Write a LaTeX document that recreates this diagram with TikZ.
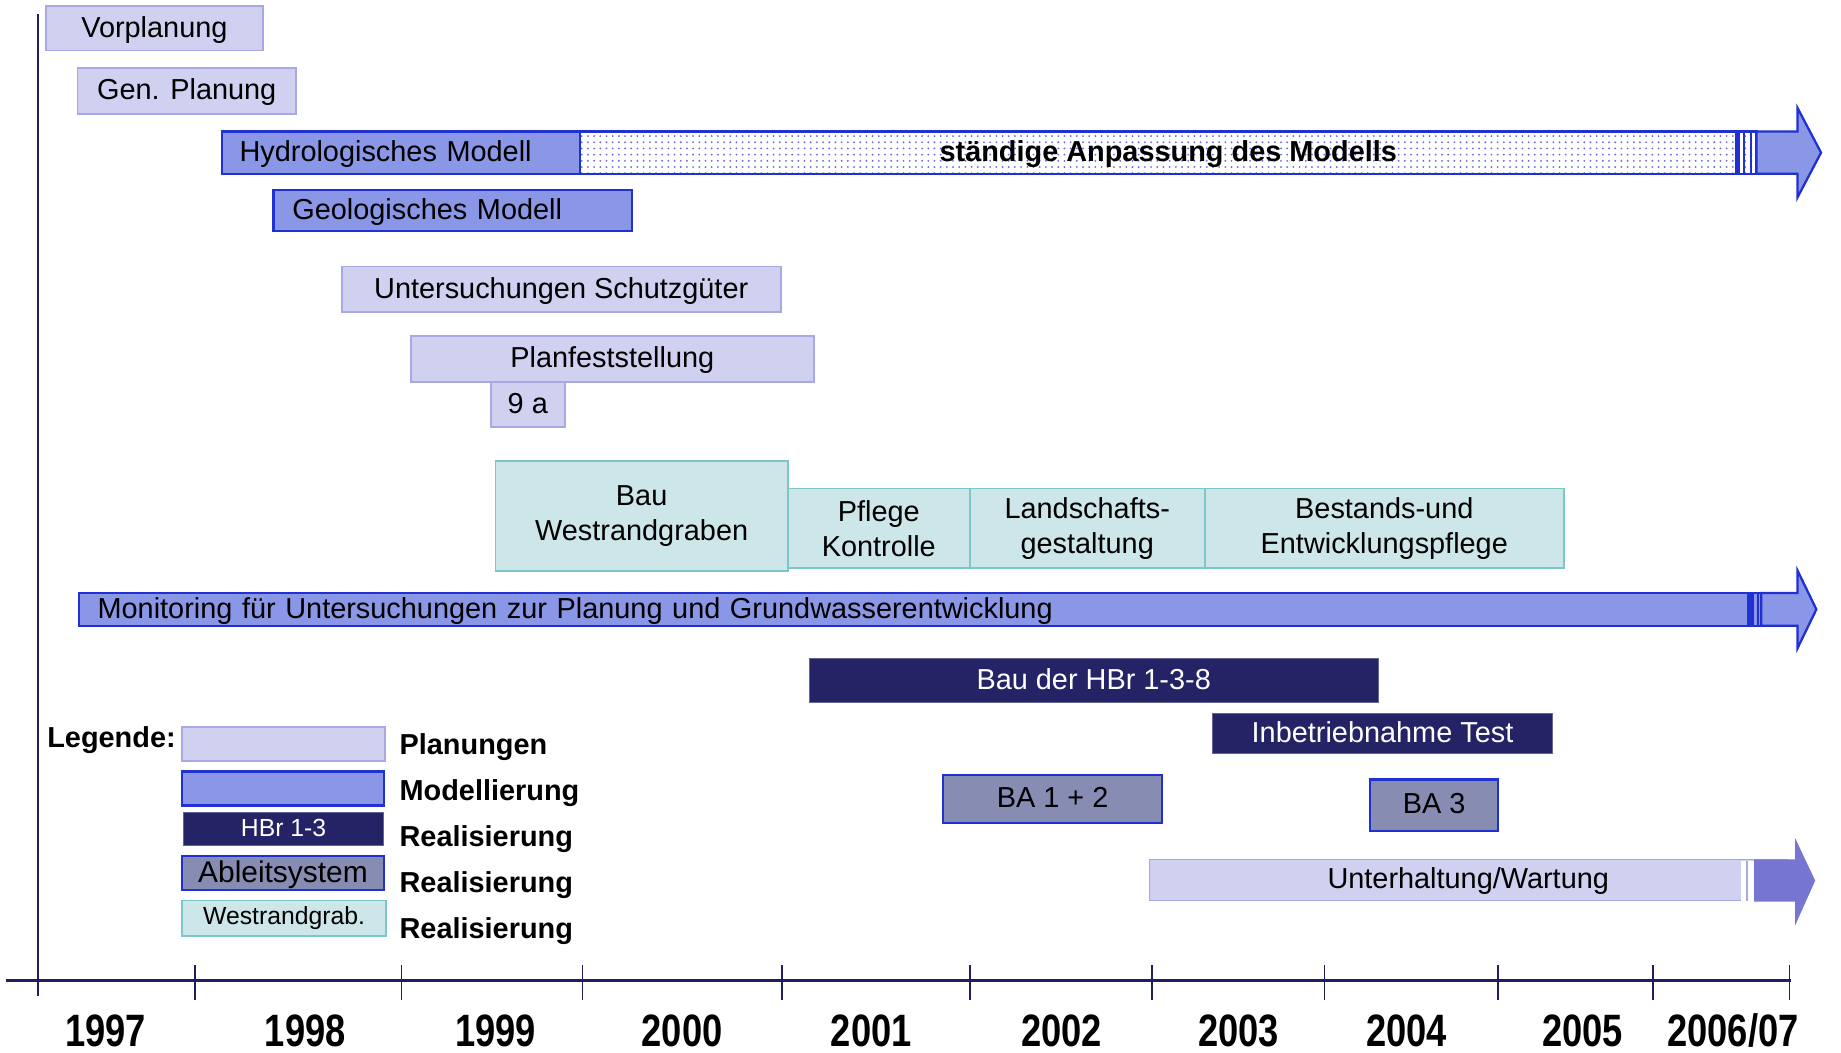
\documentclass[tikz,border=0pt]{standalone}
\usepackage{fontspec}
\setmainfont{Liberation Sans}
\newfontfamily\yearfont[FakeStretch=0.8]{Liberation Sans}
\usetikzlibrary{patterns}
\definecolor{planfill}{RGB}{208,208,240}
\definecolor{planline}{RGB}{168,168,226}
\definecolor{modelfill}{RGB}{138,150,230}
\definecolor{modelline}{RGB}{32,48,210}
\definecolor{hbrfill}{RGB}{35,35,102}
\definecolor{bafill}{RGB}{134,140,178}
\definecolor{wrgfill}{RGB}{204,230,234}
\definecolor{wrgline}{RGB}{124,200,200}
\definecolor{axisnavy}{RGB}{30,30,96}
\definecolor{wartarrow}{RGB}{118,118,210}
\tikzset{
    bartext/.style = {font=\fontsize{14}{17}\selectfont, text=black, inner sep=1pt, text depth=1.5pt},
    planbox/.style = {rectangle, draw=planline, fill=planfill, line width=0.9pt, bartext},
    modelbox/.style = {rectangle, draw=modelline, fill=modelfill, line width=1.1pt, bartext},
    hbrbox/.style = {rectangle, draw=hbrfill!70!white, fill=hbrfill, line width=0.5pt, bartext, text=white},
    babox/.style = {rectangle, draw=modelline, fill=bafill, line width=1.1pt, bartext},
    wrgbox/.style = {rectangle, draw=wrgline, fill=wrgfill, line width=0.9pt, font=\fontsize{14}{17}\selectfont, text=black, inner sep=1pt, align=center},
    legtxt/.style = {anchor=base west, font=\fontsize{14}{17}\selectfont\bfseries, inner sep=0pt},
    yearlbl/.style = {anchor=base, font=\yearfont\fontsize{22}{24}\selectfont\bfseries, inner sep=0pt},
    axisline/.style = {axisnavy, line width=1.6pt},
    tickline/.style = {axisnavy, line width=0.8pt}
}

\begin{document}
\begin{tikzpicture}[x=0.02cm, y=-0.02cm]
  \useasboundingbox (0,0) rectangle (1568,896);

  \draw[tickline, line width=1pt] (32,12) -- (32,848);
  \draw[axisline] (5,835) -- (1525,835);
  \foreach \tx in {166,342,496,666,826,981,1128,1276,1408,1524}
    \draw[tickline] (\tx,822) -- (\tx,852);
  \foreach \yx/\yl [count=\i] in {90/1997, 260/1998, 422/1999, 581/2000, 742/2001, 904/2002, 1055/2003, 1198/2004, 1348/2005, 1476/{2006/07}}
    \node[yearlbl] (year\i) at (\yx,891) {\yl};

  \node[planbox, minimum width=3.70cm, minimum height=0.76cm] (vorpl) at (131.5,24) {Vorplanung};
  \node[planbox, minimum width=3.72cm, minimum height=0.78cm] (genpl) at (159,77.5) {Gen. Planung};

  \node[rectangle, draw=modelline, line width=1.1pt, pattern=dots, pattern color=modelline!70, minimum width=20.04cm, minimum height=0.72cm, bartext, font=\fontsize{14}{17}\selectfont\bfseries] (anpass) at (995,130) {ständige Anpassung des Modells};
  \draw[modelline, line width=2.5pt] (1480,112) -- (1480,148);
  \draw[modelline, line width=1pt] (1485,112) -- (1485,148);
  \draw[modelline, line width=1pt] (1491,112) -- (1491,148);
  \draw[modelline, fill=modelfill, line width=1.1pt] (1496,112) -- (1531,112) -- (1531,92) -- (1551,130) -- (1531,168) -- (1531,148) -- (1496,148) -- cycle;
  \node[modelbox, text width=5.50cm, inner xsep=0.3cm, minimum height=0.72cm, align=left] (hydro) at (341.5,130) {Hydrologisches Modell};
  \node[modelbox, text width=5.46cm, inner xsep=0.32cm, minimum height=0.70cm, align=left] (geol) at (385.5,179.5) {Geologisches Modell};

  \node[planbox, minimum width=7.48cm, minimum height=0.78cm] (schutz) at (478,246.5) {Untersuchungen Schutzgüter};
  \node[planbox, minimum width=1.26cm, minimum height=0.78cm] (neuna) at (449.5,344.5) {9 a};
  \node[planbox, minimum width=6.86cm, minimum height=0.78cm] (planf) at (521.5,305.5) {Planfeststellung};

  \node[wrgbox, minimum width=4.98cm, minimum height=1.88cm] (bauwrg) at (546.5,439.5) {Bau\\Westrandgraben};
  \node[wrgbox, minimum width=3.10cm, minimum height=1.36cm] (pflege) at (748.5,450) {Pflege\\Kontrolle};
  \node[wrgbox, minimum width=4.00cm, minimum height=1.36cm] (landsch) at (926,450) {Landschafts-\\gestaltung};
  \node[wrgbox, minimum width=6.12cm, minimum height=1.36cm] (bestand) at (1179,450) {Bestands-und\\Entwicklungspflege};

  \node[modelbox, text width=28.02cm, inner xsep=0.32cm, inner ysep=0pt, minimum height=0.56cm, align=left] (monit) at (783.5,519) {Monitoring für Untersuchungen zur Planung und Grundwasserentwicklung};
  \draw[modelline, line width=3.5pt] (1491,505) -- (1491,533);
  \draw[modelline, line width=1pt] (1497,505) -- (1497,533);
  \draw[modelline, fill=modelfill, line width=1.1pt] (1500,505) -- (1531,505) -- (1531,486) -- (1547,519) -- (1531,552) -- (1531,533) -- (1500,533) -- cycle;

  \node[hbrbox, minimum width=9.70cm, minimum height=0.74cm] (bauhbr) at (931.5,579.5) {Bau der HBr 1-3-8};
  \node[hbrbox, minimum width=5.78cm, minimum height=0.68cm] (inbetr) at (1177.5,625) {Inbetriebnahme Test};
  \node[babox, minimum width=3.74cm, minimum height=0.82cm] (ba12) at (896.5,680.5) {BA 1 + 2};
  \node[babox, minimum width=2.18cm, minimum height=0.88cm] (ba3) at (1221.5,686) {BA 3};

  \node[planbox, minimum width=10.86cm, minimum height=0.70cm] (wartung) at (1250.5,749.5) {Unterhaltung/Wartung};
  \fill[white] (1483,733) rectangle (1494,767);
  \draw[planline, line width=1pt] (1488,733) -- (1488,767);
  \fill[wartarrow] (1494,732) -- (1529,732) -- (1529,714) -- (1546,750) -- (1529,788) -- (1529,768) -- (1494,768) -- cycle;

  \node[legtxt, anchor=base east] (legende) at (150,637) {Legende:};
  \node[planbox, minimum width=3.46cm, minimum height=0.58cm] (legplan) at (241.5,633.5) {};
  \node[modelbox, minimum width=3.44cm, minimum height=0.58cm] (legmodel) at (241,671.5) {};
  \node[hbrbox, minimum width=3.42cm, minimum height=0.56cm, font=\fontsize{12}{14}\selectfont] (leghbr) at (241.5,706) {HBr 1-3};
  \node[babox, minimum width=3.44cm, minimum height=0.58cm, font=\fontsize{14.5}{17}\selectfont] (legablt) at (241,743.5) {Ableitsystem};
  \node[wrgbox, minimum width=3.48cm, minimum height=0.60cm, font=\fontsize{12}{14}\selectfont] (legwrg) at (242,782) {Westrandgrab.};
  \node[legtxt] (txtplan) at (340,643) {Planungen};
  \node[legtxt] (txtmodel) at (340,682) {Modellierung};
  \node[legtxt] (txthbr) at (340,721) {Realisierung};
  \node[legtxt] (txtablt) at (340,760) {Realisierung};
  \node[legtxt] (txtwrg) at (340,799) {Realisierung};
\end{tikzpicture}
\end{document}
